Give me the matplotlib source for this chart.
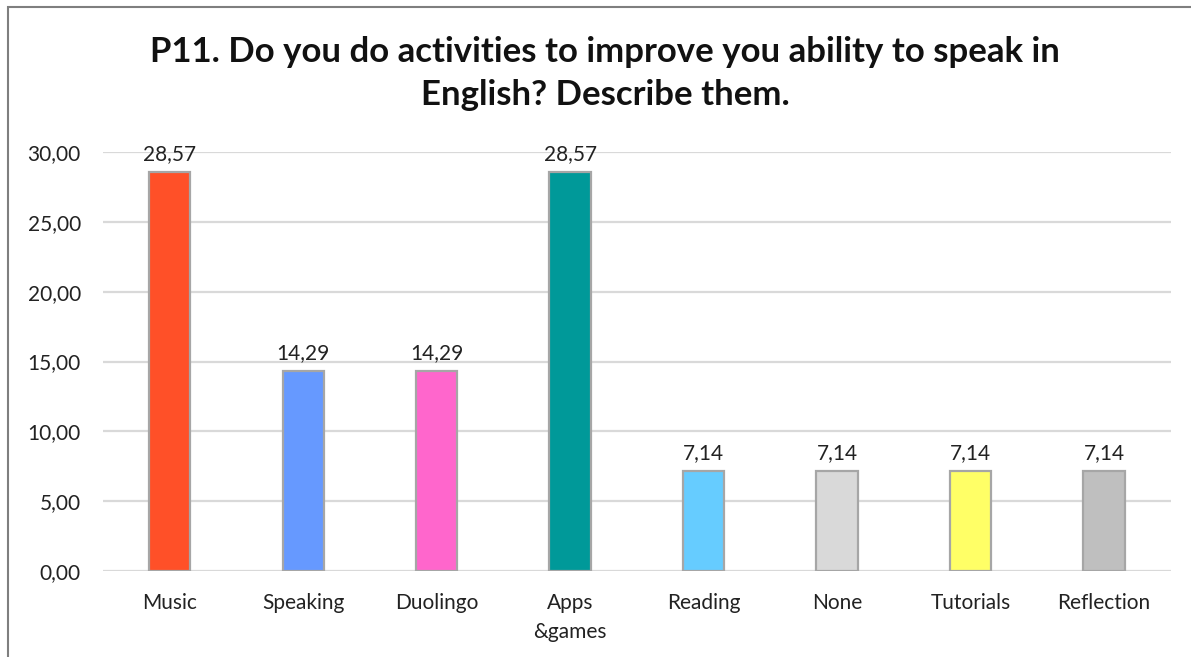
import matplotlib.pyplot as plt
from matplotlib.patches import Rectangle

plt.rcParams['font.family'] = ['Lato', 'DejaVu Sans']

categories = ["Music", "Speaking", "Duolingo", "Apps\n&games", "Reading", "None", "Tutorials", "Reflection"]
values = [28.57, 14.29, 14.29, 28.57, 7.14, 7.14, 7.14, 7.14]
colors = ["#FF5028", "#6699FF", "#FF66CC", "#009999", "#66CCFF", "#D9D9D9", "#FFFF66", "#BFBFBF"]
yticks = [0, 5, 10, 15, 20, 25, 30]

fig = plt.figure(figsize=(11.91, 6.57), dpi=100)
ax = fig.add_axes([0.0865, 0.1309, 0.8965, 0.6377])

x = list(range(len(categories)))
bars = ax.bar(x, values, width=0.31, color=colors, edgecolor="#A6A6A6", linewidth=1.6, zorder=3)

for b, v in zip(bars, values):
    ax.annotate(f"{v:.2f}".replace(".", ","), (b.get_x() + b.get_width() / 2, v),
                xytext=(0, 6), textcoords="offset points", ha="center", va="bottom",
                fontsize=15, color="#222222")

ax.set_xlim(-0.5, len(categories) - 0.5)
ax.set_ylim(0, 30)
ax.set_yticks(yticks)
ax.set_yticklabels([f"{t:.2f}".replace(".", ",") for t in yticks])
ax.set_xticks(x)
ax.set_xticklabels(categories, linespacing=1.55)
ax.tick_params(axis="both", length=0, labelsize=15, colors="#222222")
ax.tick_params(axis="x", pad=16)
ax.tick_params(axis="y", pad=16)
ax.yaxis.grid(True, color="#D9D9D9", linewidth=1.6, zorder=0)
for s in ax.spines.values():
    s.set_visible(False)

fig.text(0.508, 0.888, "P11. Do you do activities to improve you ability to speak in\nEnglish? Describe them.",
         ha="center", va="center", fontsize=25, fontweight="bold", linespacing=1.42, color="#111111")

# chart frame, only left and top edges fall inside the image
fig.patches.append(Rectangle((8 / 1191, -0.05), 1.2, 1.05 - 7 / 657, transform=fig.transFigure,
                             fill=False, edgecolor="#7F7F7F", linewidth=1.5))

fig.savefig("out.png", dpi=100)
